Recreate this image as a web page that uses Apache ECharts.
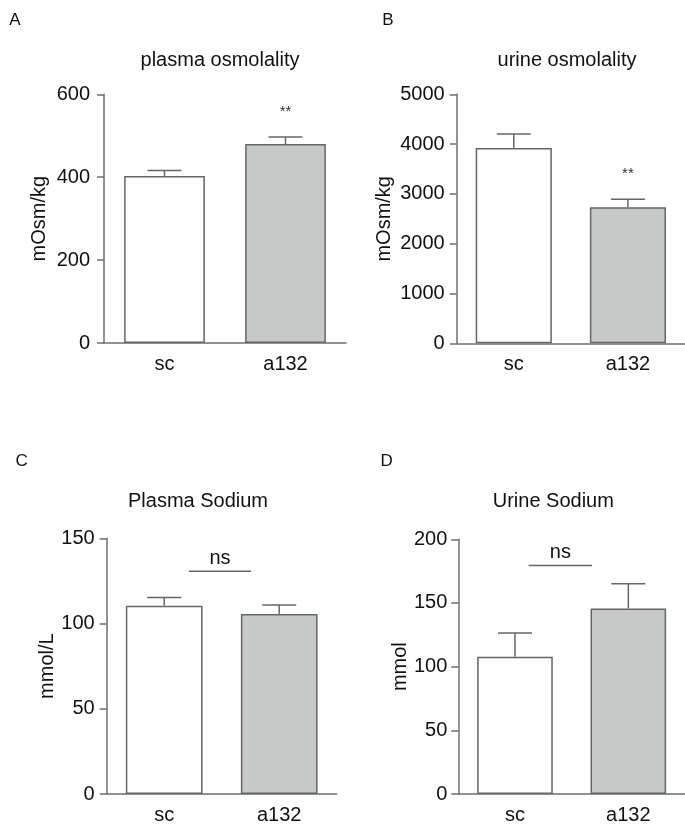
<!DOCTYPE html>
<html>
<head>
<meta charset="utf-8">
<script src="https://cdn.jsdelivr.net/npm/echarts@6/dist/echarts.min.js"></script>
<style>
html,body{margin:0;padding:0;background:#fff;}
#chart{width:685px;height:825px;}
</style>
</head>
<body>
<div id="chart"></div>
<script>
// ---- data ----
const categories = ['sc', 'a132'];

const plasmaOsmMean = [403, 480];
const plasmaOsmErr  = [416, 497];
const plasmaOsmSig  = ['', '**'];

const urineOsmMean = [3922, 2731];
const urineOsmErr  = [4203, 2892];
const urineOsmSig  = ['', '**'];

const plasmaNaMean = [110.4, 105.6];
const plasmaNaErr  = [115.2, 110.8];
const plasmaNaNs   = [130.6];

const urineNaMean = [107.7, 145.7];
const urineNaErr  = [126.4, 165.1];
const urineNaNs   = [179.5];

const titles = ['plasma osmolality', 'urine osmolality', 'Plasma Sodium', 'Urine Sodium'];
const yNames = ['mOsm/kg', 'mOsm/kg', 'mmol/L', 'mmol'];
const panelLetters = ['A', 'B', 'C', 'D'];
const yScales = [
  {min: 0, max: 600, interval: 200},
  {min: 0, max: 5000, interval: 1000},
  {min: 0, max: 150, interval: 50},
  {min: 0, max: 200, interval: 50}
];

// ---- layout / style ----
const FONT = "'Liberation Sans', Arial, Helvetica, sans-serif";
const TXT = '#111111';
const AX = '#6f6f6f';
const BORDER = '#666666';
const FILLS = ['#ffffff', '#c7c8c8'];
const FS = 20;

const grids = [
  {left: 104, top: 94.3, width: 242, height: 248.7},
  {left: 456.7, top: 94.3, width: 240, height: 249},
  {left: 106.7, top: 538.3, width: 230, height: 259},
  {left: 458.3, top: 539.3, width: 232, height: 258}
];
const nameGaps = [55, 62, 46, 46];
const labelMargins = [14, 12, 12, 11];
const nsSpan = [[0.215, 0.755], [0.12, 0.68]];

const means = [plasmaOsmMean, urineOsmMean, plasmaNaMean, urineNaMean];
const errs = [plasmaOsmErr, urineOsmErr, plasmaNaErr, urineNaErr];
const sigs = [plasmaOsmSig, urineOsmSig, null, null];
const nsVals = [null, null, plasmaNaNs, urineNaNs];

const xAxes = [], yAxes = [], series = [];
grids.forEach((g, i) => {
  xAxes.push({
    gridIndex: i, type: 'category', data: categories,
    axisLine: {lineStyle: {color: AX, width: 1.5}},
    axisTick: {show: false},
    axisLabel: {color: TXT, fontSize: FS, fontFamily: FONT, margin: 11}
  });
  yAxes.push({
    gridIndex: i, type: 'value',
    min: yScales[i].min, max: yScales[i].max, interval: yScales[i].interval,
    splitLine: {show: false},
    axisLine: {show: true, lineStyle: {color: AX, width: 1.5}},
    axisTick: {show: true, length: 7, lineStyle: {color: AX, width: 1.5}},
    axisLabel: {color: TXT, fontSize: FS, fontFamily: FONT, margin: labelMargins[i],
      formatter: v => String(v)},
    name: yNames[i], nameLocation: 'middle', nameGap: nameGaps[i],
    nameTextStyle: {color: TXT, fontSize: FS, fontFamily: FONT}
  });
  series.push({
    type: 'bar', xAxisIndex: i, yAxisIndex: i, barWidth: '66.7%',
    data: means[i].map((v, k) => ({value: v, itemStyle: {color: FILLS[k]}})),
    itemStyle: {borderColor: BORDER, borderWidth: 1.5},
    silent: true, animation: false, z: 2
  });
  const sig = sigs[i];
  series.push({
    type: 'custom', xAxisIndex: i, yAxisIndex: i, animation: false, silent: true, z: 3,
    encode: {x: 0, y: [1, 2]},
    data: means[i].map((v, k) => [k, v, errs[i][k]]),
    renderItem: function (params, api) {
      const k = api.value(0);
      const base = api.coord([k, api.value(1)]);
      const top = api.coord([k, api.value(2)]);
      const cap = 17;
      const children = [
        {type: 'line', shape: {x1: base[0], y1: base[1], x2: top[0], y2: top[1]}, style: {stroke: BORDER, lineWidth: 1.5}},
        {type: 'line', shape: {x1: top[0] - cap, y1: top[1], x2: top[0] + cap, y2: top[1]}, style: {stroke: BORDER, lineWidth: 1.5}}
      ];
      if (sig && sig[k]) {
        children.push({type: 'text', x: top[0], y: top[1] - 25,
          style: {text: sig[k], fill: '#333', font: '15px ' + FONT, textAlign: 'center', textVerticalAlign: 'middle'}});
      }
      return {type: 'group', children: children};
    }
  });
  if (nsVals[i]) {
    const span = nsSpan[i - 2];
    series.push({
      type: 'custom', xAxisIndex: i, yAxisIndex: i, animation: false, silent: true, z: 3,
      data: nsVals[i].map(v => [0, v]),
      renderItem: function (params, api) {
        const v = api.value(1);
        const p0 = api.coord([0, v]);
        const p1 = api.coord([1, v]);
        const d = p1[0] - p0[0];
        const xa = p0[0] + span[0] * d, xb = p0[0] + span[1] * d;
        return {type: 'group', children: [
          {type: 'line', shape: {x1: xa, y1: p0[1], x2: xb, y2: p0[1]}, style: {stroke: BORDER, lineWidth: 1.5}},
          {type: 'text', x: (xa + xb) / 2, y: p0[1] - 13,
            style: {text: 'ns', fill: TXT, font: FS + 'px ' + FONT, textAlign: 'center', textVerticalAlign: 'middle'}}
        ]};
      }
    });
  }
});

const titlePos = [[220, 60], [567, 60], [198, 501.7], [553.3, 501.7]];
const letterPos = [[15, 20], [388, 20], [21.7, 461.7], [386.7, 461.7]];
const graphics = [];
titles.forEach((t, i) => {
  graphics.push({type: 'text', x: titlePos[i][0], y: titlePos[i][1],
    style: {text: t, fill: TXT, font: FS + 'px ' + FONT, textAlign: 'center', textVerticalAlign: 'middle'}});
  graphics.push({type: 'text', x: letterPos[i][0], y: letterPos[i][1],
    style: {text: panelLetters[i], fill: TXT, font: '17px ' + FONT, textAlign: 'center', textVerticalAlign: 'middle'}});
});

const chart = echarts.init(document.getElementById('chart'), null, {renderer: 'canvas'});
chart.setOption({
  backgroundColor: '#ffffff',
  animation: false,
  grid: grids.map(g => Object.assign({containLabel: false}, g)),
  xAxis: xAxes,
  yAxis: yAxes,
  series: series,
  graphic: graphics
});
</script>
</body>
</html>
